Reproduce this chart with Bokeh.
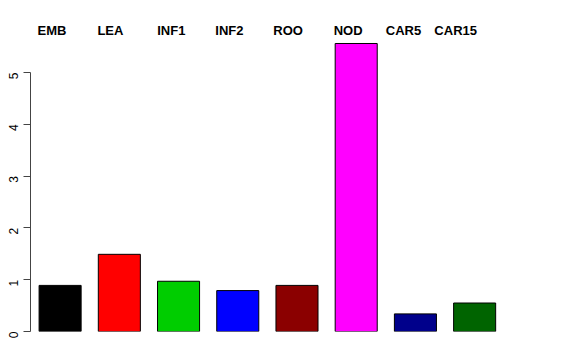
import math
from bokeh.plotting import figure
from bokeh.models import Range1d, FixedTicker, ColumnDataSource
from bokeh.core.properties import value
from bokeh.embed import file_html
from bokeh.resources import INLINE

categories = ["EMB", "LEA", "INF1", "INF2", "ROO", "NOD", "CAR5", "CAR15"]
values = [0.89, 1.49, 0.97, 0.79, 0.89, 5.56, 0.34, 0.55]
colors = ["#000000", "#FF0000", "#00CD00", "#0000FF", "#8B0000", "#FF00FF", "#00008B", "#006400"]
y_ticks = [0, 1, 2, 3, 4, 5]

# layout-only: left edge of each header label, in bar-slot units
label_x = [0.12, 1.13, 2.14, 3.12, 4.10, 5.12, 6.00, 6.82]
label_y = 5.82

p = figure(width=576, height=360, output_backend="svg", toolbar_location=None,
           x_range=Range1d(0, 9.22), y_range=Range1d(0, 6.39),
           x_axis_location=None, min_border_left=30, min_border_right=0,
           min_border_top=0, min_border_bottom=29)
p.outline_line_color = None
p.xgrid.visible = False
p.ygrid.visible = False
p.background_fill_color = "white"
p.border_fill_color = "white"

src = ColumnDataSource(dict(x=[i + 0.5 for i in range(len(categories))],
                            top=values, color=colors))
p.vbar(x="x", top="top", bottom=0, width=0.71, fill_color="color",
       line_color="#000000", line_width=1, source=src)

p.text(x=label_x, y=[label_y] * len(categories), text=categories,
       text_font=value("Liberation Sans"), text_font_style="bold",
       text_font_size="13px", text_align="left", text_baseline="alphabetic",
       text_color="#000000")

ax = p.yaxis[0]
ax.ticker = FixedTicker(ticks=y_ticks)
ax.bounds = (0, 5)
ax.axis_line_color = "#444444"
ax.major_tick_line_color = "#444444"
ax.major_tick_out = 7
ax.major_tick_in = 0
ax.minor_tick_line_color = None
ax.major_label_orientation = math.pi / 2
ax.major_label_standoff = 10
ax.major_label_text_font = "Liberation Sans"
ax.major_label_text_font_size = "12px"
ax.major_label_text_color = "#000000"

open("out.html", "w").write(file_html(p, INLINE))
